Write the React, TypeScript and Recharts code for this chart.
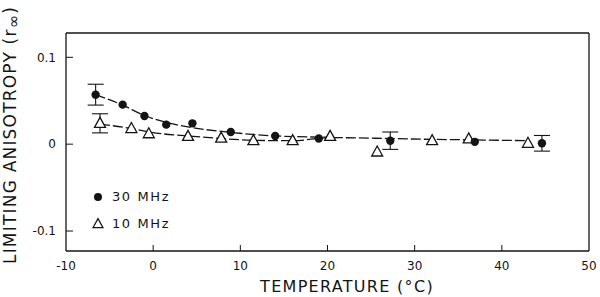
import {
  ErrorBar,
  Legend,
  ReferenceLine,
  Scatter,
  ScatterChart,
  XAxis,
  YAxis,
} from 'recharts'

// points: temperature (°C), limiting anisotropy, error
const temp30 = [-6.6, -3.5, -1.0, 1.5, 4.5, 8.9, 14.0, 19.0, 27.2, 36.9, 44.6]
const r30 = [0.057, 0.0455, 0.0325, 0.0225, 0.024, 0.014, 0.0095, 0.0065, 0.004, 0.0027, 0.001]
const err30 = [0.012, 0, 0, 0, 0, 0, 0, 0, 0.01, 0, 0.009]

const temp10 = [-6.1, -2.5, -0.5, 4.0, 7.8, 11.5, 16.0, 20.3, 25.7, 32.0, 36.2, 43.0]
const r10 = [0.024, 0.018, 0.012, 0.009, 0.007, 0.004, 0.004, 0.009, -0.009, 0.004, 0.006, 0.001]
const err10 = [0.011, 0, 0, 0, 0, 0, 0, 0, 0, 0, 0, 0]

// hand-drawn fit curves
const fitTemp30 = [-6.6, -3.5, -1.0, 1.5, 4.5, 9.0, 14.0, 20.0]
const fitR30 = [0.057, 0.045, 0.033, 0.025, 0.019, 0.0135, 0.0095, 0.008]
const fitTemp10 = [-6.1, -2.5, -0.5, 4.0, 7.8, 11.5, 16.0, 20.3, 27.0, 32.0, 36.2, 43.0]
const fitR10 = [0.023, 0.018, 0.014, 0.0095, 0.0065, 0.0045, 0.004, 0.0075, 0.0065, 0.0055, 0.005, 0.004]

const xTicks = [-10, 0, 10, 20, 30, 40, 50]
const yTicks = [-0.1, 0, 0.1]

const X_DOMAIN: [number, number] = [-10, 50]
const Y_DOMAIN: [number, number] = [-0.123, 0.128]

const INK = '#141414'
const FONT = '"DejaVu Sans", sans-serif'

const pts30 = temp30.map((t, i) => ({ t, r: r30[i], e: err30[i] }))
const pts10 = temp10.map((t, i) => ({ t, r: r10[i], e: err10[i] }))
const fit30 = fitTemp30.map((t, i) => ({ t, r: fitR30[i] }))
const fit10 = fitTemp10.map((t, i) => ({ t, r: fitR10[i] }))

function fmtY(v: number) {
  return v === 0 ? '0' : String(v)
}

function XTick(props: any) {
  const { x, y, payload } = props
  const v = payload.value
  const edge = v === X_DOMAIN[0] || v === X_DOMAIN[1]
  return (
    <g>
      {!edge && <line x1={x} x2={x} y1={y - 10} y2={y - 16} stroke={INK} strokeWidth={1} />}
      <text x={x} y={y} dy="0.71em" textAnchor="middle" fontSize={12} fill={INK} fontFamily={FONT}>
        {v}
      </text>
    </g>
  )
}

function YTick(props: any) {
  const { x, y, payload } = props
  return (
    <g>
      <line x1={x + 10} x2={x + 17} y1={y} y2={y} stroke={INK} strokeWidth={1} />
      <text x={x} y={y} dy="0.35em" textAnchor="end" fontSize={12} fill={INK} fontFamily={FONT}>
        {fmtY(payload.value)}
      </text>
    </g>
  )
}

function Triangle(props: any) {
  const { cx, cy } = props
  if (cx == null || cy == null) return <g />
  const h = 10
  const w = 11
  return (
    <polygon
      points={`${cx},${cy - h * 0.6} ${cx - w / 2},${cy + h * 0.4} ${cx + w / 2},${cy + h * 0.4}`}
      fill="#fff"
      stroke={INK}
      strokeWidth={1.3}
    />
  )
}

function Dot(props: any) {
  const { cx, cy } = props
  if (cx == null || cy == null) return <g />
  return <circle cx={cx} cy={cy} r={4.2} fill={INK} />
}

const Empty = () => <g />

function LegendBox() {
  const rows = [
    { label: '30 MHz', icon: <circle cx={6} cy={7} r={4} fill={INK} /> },
    {
      label: '10 MHz',
      icon: <polygon points="6,1.6 1,10.6 11,10.6" fill="#fff" stroke={INK} strokeWidth={1.2} />,
    },
  ]
  return (
    <div style={{ fontFamily: FONT, fontSize: 13, color: INK, letterSpacing: 1.6 }}>
      {rows.map((row) => (
        <div key={row.label} style={{ display: 'flex', alignItems: 'center', height: 27 }}>
          <svg width={12} height={13} style={{ marginRight: 8 }}>
            {row.icon}
          </svg>
          <span>{row.label}</span>
        </div>
      ))}
    </div>
  )
}

function YLabel() {
  return (
    <text
      x={16}
      y={135}
      transform="rotate(-90 16 135)"
      textAnchor="middle"
      fontSize={17}
      fill={INK}
      fontFamily={FONT}
      letterSpacing={1.2}
    >
      LIMITING ANISOTROPY (r
      <tspan fontSize={16} dy={3}>∞</tspan>
      <tspan dy={-3}>)</tspan>
    </text>
  )
}

function XLabel() {
  return (
    <text
      x={347}
      y={292}
      textAnchor="middle"
      fontSize={16}
      fill={INK}
      fontFamily={FONT}
      letterSpacing={1.3}
    >
      TEMPERATURE (°C)
    </text>
  )
}

export default function App() {
  return (
    <div style={{ position: 'absolute', left: 0, top: 0, background: '#fff' }}>
      <ScatterChart width={600} height={297} margin={{ top: 33, right: 11, bottom: 0, left: 0 }}>
        <XAxis
          type="number"
          dataKey="t"
          domain={X_DOMAIN}
          ticks={xTicks}
          tick={<XTick />}
          tickLine={false}
          tickSize={0}
          tickMargin={10}
          height={46}
          axisLine={{ stroke: INK, strokeWidth: 1.3 }}
          allowDataOverflow
          label={<XLabel />}
        />
        <YAxis
          type="number"
          dataKey="r"
          domain={Y_DOMAIN}
          ticks={yTicks}
          tick={<YTick />}
          tickLine={false}
          tickSize={0}
          tickMargin={10}
          width={66}
          axisLine={{ stroke: INK, strokeWidth: 1.3 }}
          allowDataOverflow
          label={<YLabel />}
        />
        {/* top and right edges of the frame */}
        <ReferenceLine y={Y_DOMAIN[1]} stroke={INK} strokeWidth={1.3} ifOverflow="visible" />
        <ReferenceLine x={X_DOMAIN[1]} stroke={INK} strokeWidth={1.3} ifOverflow="visible" />
        <Scatter
          data={fit30}
          shape={Empty}
          line={{ stroke: INK, strokeWidth: 1.3, strokeDasharray: '10 3' }}
          lineJointType="monotoneX"
          isAnimationActive={false}
          legendType="none"
        />
        <Scatter
          data={fit10}
          shape={Empty}
          line={{ stroke: INK, strokeWidth: 1.3, strokeDasharray: '10 3' }}
          lineJointType="monotoneX"
          isAnimationActive={false}
          legendType="none"
        />
        <Scatter data={pts10} shape={Triangle} isAnimationActive={false}>
          <ErrorBar dataKey="e" direction="y" width={8} stroke={INK} strokeWidth={1.1} />
        </Scatter>
        <Scatter data={pts30} shape={Dot} isAnimationActive={false}>
          <ErrorBar dataKey="e" direction="y" width={8} stroke={INK} strokeWidth={1.1} />
        </Scatter>
        <Legend
          content={<LegendBox />}
          layout="vertical"
          verticalAlign="middle"
          align="center"
          wrapperStyle={{ left: 92, top: 183, width: 110 }}
        />
      </ScatterChart>
    </div>
  )
}
